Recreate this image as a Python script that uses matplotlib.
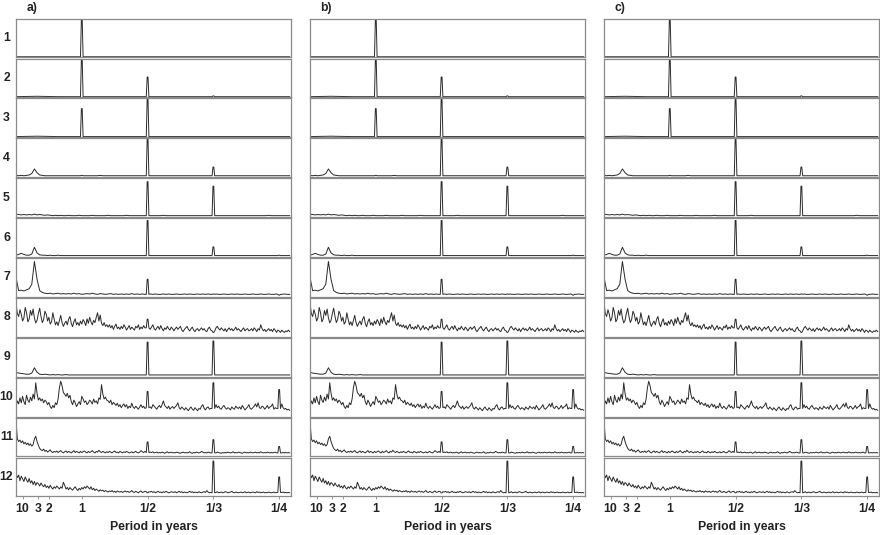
import numpy as np
import matplotlib.pyplot as plt

plt.rcParams['font.family'] = ['Liberation Sans', 'DejaVu Sans']

COLUMN_LABELS = ["a)", "b)", "c)"]
ROW_LABELS = ["1", "2", "3", "4", "5", "6", "7", "8", "9", "10", "11", "12"]
TICK_FREQS = [0.1, 1 / 3, 0.5, 1, 2, 3, 4]
TICK_LABELS = ["10", "3", "2", "1", "1/2", "1/3", "1/4"]
X_LABEL = "Period in years"

# sharp annual / semi-annual / ... peaks (cycles per year) and their heights per row
SPIKE_FREQS = [1, 2, 3, 4]
SPIKE_HEIGHTS = [
    [100, 0, 0, 0],
    [100, 52, 2, 0],
    [74, 100, 0, 0],
    [3, 100, 25, 0],
    [0, 92, 80, 0],
    [0, 95, 25, 3],
    [0, 45, 6, 3],
    [0, 45, 10, 0],
    [0, 90, 93, 0],
    [0, 65, 88, 70],
    [0, 37, 43, 25],
    [0, 8, 92, 50],
]

# background spectra, evenly spread from 0 to 4.16 cycles/year (percent of panel height)
BASE_1 = [0, 0, 0, 0, 0, 0, 0, 0, 0, 0, 0, 0, 0, 0]
BASE_2 = [0, 1, 0, 0, 0, 0, 0, 0, 0, 0, 0, 0, 0, 0]
BASE_3 = [0, 1, 0, 0, 0, 0, 0, 0, 0, 0, 0, 0, 0, 0]
BASE_4 = [
    3, 2, 3, 2, 3, 4, 8, 20, 10, 4,
    3, 2, 2, 2, 2, 2, 2, 2, 2, 2,
    2, 2, 2, 2, 2, 2, 2, 2, 2, 2,
    2, 2, 3, 2, 2, 2, 2, 2, 2, 2,
    2, 2, 2, 2, 2, 2, 2, 2, 2, 2,
    2, 2, 2, 2, 2, 2, 2, 2, 2, 2,
    2, 2, 2, 2, 2, 2, 2, 2, 2, 2,
    2, 2, 2, 2, 2, 2, 2, 2, 2, 2,
    2, 2, 2, 2, 2, 2, 2, 2, 2, 2,
    2, 2, 2, 2, 2, 2, 2, 2, 2, 2,
    2, 2, 2, 2, 2,
]
BASE_5 = [
    6, 5, 4, 5, 4, 5, 4, 6, 4, 5,
    4, 3, 4, 3, 2, 3, 2, 3, 2, 2,
    3, 2, 2, 2, 3, 2, 2, 2, 2, 3,
    2, 2, 2, 2, 2, 3, 2, 2, 2, 2,
    2, 2, 3, 2, 2, 2, 2, 2, 2, 2,
    2, 2, 2, 2, 2, 2, 3, 2, 2, 2,
    2, 2, 2, 2, 2, 2, 2, 2, 2, 2,
    2, 2, 2, 2, 2, 2, 2, 2, 2, 2,
    2, 2, 2, 2, 2, 2, 2, 2, 2, 2,
    2, 2, 2, 2, 2, 2, 3, 2, 2, 2,
    2, 2, 2, 2, 2,
]
BASE_6 = [
    3, 5, 8, 5, 3, 3, 6, 24, 9, 4,
    3, 3, 2, 3, 2, 2, 3, 2, 2, 2,
    2, 2, 2, 2, 2, 2, 2, 2, 2, 2,
    2, 2, 2, 2, 2, 2, 2, 2, 2, 2,
    2, 2, 2, 2, 2, 2, 2, 2, 2, 2,
    2, 2, 2, 2, 2, 2, 2, 2, 2, 2,
    2, 2, 2, 2, 2, 2, 2, 2, 2, 2,
    2, 2, 2, 2, 2, 2, 2, 2, 2, 2,
    2, 2, 2, 2, 2, 2, 2, 2, 2, 2,
    2, 2, 2, 2, 2, 2, 2, 2, 2, 2,
    2, 2, 2, 2, 2,
]
BASE_7 = [
    50, 15, 16, 14, 17, 20, 32, 92, 45, 15,
    10, 8, 7, 8, 6, 7, 8, 6, 7, 6,
    7, 6, 8, 6, 7, 5, 6, 7, 6, 8,
    6, 5, 7, 6, 5, 6, 7, 5, 6, 5,
    6, 5, 6, 5, 7, 5, 6, 5, 6, 5,
    5, 6, 5, 6, 5, 5, 6, 5, 6, 5,
    5, 6, 5, 5, 6, 5, 6, 5, 5, 6,
    5, 6, 5, 6, 5, 5, 6, 5, 5, 6,
    5, 5, 6, 5, 6, 5, 5, 6, 5, 5,
    6, 5, 5, 6, 5, 5, 6, 5, 5, 6,
    5, 5, 6, 5, 5,
]
BASE_8 = [
    88, 60, 52, 70, 58, 40, 48, 76, 62, 38,
    45, 68, 55, 72, 48, 35, 42, 60, 74, 52,
    36, 44, 66, 58, 40, 50, 32, 38, 62, 45,
    30, 38, 28, 42, 55, 36, 26, 34, 40, 30,
    45, 52, 34, 25, 38, 46, 30, 36, 28, 40,
    32, 44, 38, 28, 46, 34, 50, 38, 30, 42,
    36, 50, 62, 40, 56, 34, 28, 36, 26, 30,
    24, 30, 22, 28, 18, 26, 32, 20, 24, 18,
    26, 20, 30, 24, 16, 22, 28, 18, 24, 20,
    16, 26, 22, 30, 18, 24, 20, 28, 22, 18,
    22, 26, 18, 24, 30, 20, 16, 22, 26, 18,
    28, 20, 14, 22, 18, 26, 20, 16, 24, 20,
    14, 20, 24, 18, 22, 26, 16, 12, 18, 22,
    26, 18, 14, 20, 24, 16, 12, 18, 20, 14,
    18, 22, 16, 20, 14, 12, 20, 24, 16, 18,
    14, 18, 22, 26, 20, 16, 22, 18, 14, 20,
    12, 18, 22, 16, 20, 14, 18, 24, 16, 20,
    16, 12, 18, 22, 14, 18, 20, 14, 16, 20,
    14, 22, 18, 12, 20, 16, 30, 20, 14, 18,
    12, 16, 20, 14, 18, 12, 20, 16, 10, 16,
    14, 10, 16, 12, 10, 14, 12, 16, 12,
]
BASE_9 = [
    10, 8, 7, 6, 5, 5, 8, 22, 10, 5,
    4, 5, 4, 3, 4, 3, 4, 3, 3, 4,
    3, 3, 3, 3, 3, 3, 3, 3, 3, 3,
    3, 3, 3, 3, 3, 3, 3, 3, 3, 3,
    3, 3, 3, 3, 3, 3, 3, 3, 3, 3,
    3, 3, 3, 3, 3, 3, 3, 3, 3, 3,
    3, 3, 3, 3, 3, 3, 3, 3, 3, 3,
    3, 3, 3, 3, 3, 3, 3, 3, 3, 3,
    3, 3, 3, 3, 3, 3, 3, 3, 3, 3,
    3, 3, 3, 3, 3, 3, 3, 3, 3, 3,
    3, 3, 3, 3, 3,
]
BASE_10 = [
    25, 40, 32, 48, 35, 52, 38, 30, 55, 42,
    36, 50, 40, 58, 45, 88, 60, 42, 48, 40,
    45, 35, 42, 38, 30, 36, 25, 20, 28, 22,
    35, 30, 45, 75, 92, 80, 62, 58, 52, 60,
    48, 55, 38, 30, 42, 35, 25, 32, 38, 30,
    52, 45, 36, 40, 30, 35, 42, 38, 32, 45,
    36, 40, 32, 48, 44, 83, 58, 45, 50, 42,
    40, 35, 42, 30, 36, 32, 28, 34, 25, 30,
    22, 28, 32, 24, 30, 20, 26, 22, 34, 24,
    20, 26, 22, 18, 24, 30, 22, 26, 20, 24,
    22, 28, 24, 20, 30, 26, 22, 18, 24, 28,
    22, 30, 40, 28, 24, 20, 26, 18, 22, 25,
    20, 24, 28, 35, 22, 18, 24, 20, 16, 22,
    18, 14, 20, 24, 18, 15, 22, 18, 14, 20,
    18, 26, 30, 20, 16, 22, 24, 18, 20, 25,
    20, 24, 30, 22, 26, 20, 18, 24, 28, 22,
    18, 22, 20, 16, 24, 20, 18, 26, 22, 20,
    24, 18, 28, 22, 16, 20, 24, 30, 20, 18,
    22, 26, 32, 24, 35, 22, 20, 26, 24, 18,
    22, 28, 20, 24, 26, 32, 18, 22, 20, 24,
    20, 26, 32, 22, 18, 20, 16, 18, 15,
]
BASE_11 = [
    92, 45, 38, 42, 35, 40, 32, 36, 30, 34,
    28, 32, 26, 30, 45, 52, 38, 28, 20, 16,
    14, 18, 12, 15, 10, 13, 16, 11, 9, 12,
    10, 13, 9, 12, 14, 10, 8, 11, 13, 9,
    12, 10, 8, 11, 14, 9, 12, 10, 8, 12,
    9, 11, 13, 10, 8, 12, 9, 11, 14, 10,
    8, 12, 10, 15, 11, 9, 12, 10, 8, 11,
    9, 12, 10, 8, 11, 13, 9, 10, 8, 12,
    10, 8, 11, 9, 12, 10, 8, 9, 11, 8,
    10, 12, 9, 8, 10, 14, 11, 9, 12, 8,
    9, 8, 10, 9, 11, 8, 9, 10, 8, 9,
    8, 10, 9, 7, 9, 11, 8, 9, 10, 8,
    9, 8, 10, 9, 8, 7, 9, 10, 8, 9,
    8, 9, 11, 8, 7, 9, 8, 10, 9, 8,
    9, 12, 10, 8, 9, 8, 10, 9, 8, 9,
    8, 9, 8, 10, 9, 8, 7, 9, 8, 9,
    8, 10, 9, 8, 9, 11, 8, 9, 8, 10,
    9, 8, 7, 9, 10, 8, 9, 8, 10, 9,
    8, 9, 10, 8, 9, 8, 11, 9, 8, 9,
    8, 10, 9, 8, 9, 8, 9, 10, 8, 9,
    8, 9, 8, 9, 8, 9, 8, 9, 8,
]
BASE_12 = [
    60, 48, 55, 40, 52, 45, 38, 50, 42, 36,
    46, 34, 40, 30, 38, 28, 35, 32, 26, 34,
    28, 24, 30, 22, 26, 20, 28, 22, 18, 24,
    20, 26, 22, 18, 24, 20, 36, 28, 18, 22,
    16, 22, 18, 15, 20, 24, 18, 14, 20, 16,
    22, 18, 24, 20, 26, 22, 18, 24, 16, 20,
    14, 18, 15, 12, 16, 13, 15, 11, 14, 12,
    10, 13, 11, 14, 10, 12, 9, 13, 11, 10,
    12, 9, 11, 13, 10, 12, 9, 11, 14, 10,
    9, 12, 10, 8, 11, 13, 9, 10, 12, 9,
    11, 9, 10, 12, 9, 11, 8, 10, 12, 9,
    10, 8, 11, 9, 12, 10, 8, 9, 11, 10,
    9, 11, 8, 10, 12, 9, 11, 8, 10, 9,
    8, 10, 12, 9, 11, 8, 10, 9, 8, 11,
    9, 8, 10, 11, 9, 14, 10, 8, 9, 10,
    8, 10, 9, 11, 8, 9, 10, 8, 9, 11,
    10, 8, 9, 10, 12, 9, 8, 10, 9, 8,
    9, 10, 8, 9, 11, 8, 9, 10, 8, 9,
    10, 9, 8, 11, 9, 10, 8, 9, 10, 8,
    9, 8, 10, 9, 8, 9, 10, 8, 9, 8,
    9, 8, 9, 10, 8, 9, 8, 9, 8,
]
BASELINES = [BASE_1, BASE_2, BASE_3, BASE_4, BASE_5, BASE_6,
             BASE_7, BASE_8, BASE_9, BASE_10, BASE_11, BASE_12]

FREQ_MAX = 4.16
W, H = 880, 535
COL_LEFT = [16, 310, 604]
COL_WIDTH = 275
ROW_TOP = 18
ROW_H = 479 / 12
LINE_COLOR = "#2a2a2a"
FRAME_COLOR = "#8a8a8a"


def spectrum(base, heights):
    x = np.linspace(0, FREQ_MAX, len(base))
    y = np.array(base, dtype=float)
    xs, ys = list(x), list(y)
    for f0, h in zip(SPIKE_FREQS, heights):
        if h <= 0:
            continue
        i = int(np.argmin(np.abs(x - f0)))
        b = y[i]
        keep = [k for k in range(len(xs)) if abs(xs[k] - f0) >= 0.025]
        xs = [xs[k] for k in keep] + [f0 - 0.02, f0 - 0.006, f0 + 0.006, f0 + 0.02]
        ys = [ys[k] for k in keep] + [b, h, h, b]
    order = np.argsort(xs)
    return np.array(xs)[order], np.array(ys)[order]


fig = plt.figure(figsize=(W / 100, H / 100), dpi=100)

for c, left in enumerate(COL_LEFT):
    for r in range(12):
        top = ROW_TOP + r * ROW_H
        ax = fig.add_axes([left / W, 1 - (top + ROW_H - 0.6) / H,
                           COL_WIDTH / W, (ROW_H - 1.2) / H])
        fx, fy = spectrum(BASELINES[r], SPIKE_HEIGHTS[r])
        ax.plot(fx, fy, color=LINE_COLOR, lw=0.7)
        ax.set_xlim(0, 4.18)
        ax.set_ylim(-1.5, 101)
        ax.set_yticks([])
        for s in ax.spines.values():
            s.set_color(FRAME_COLOR)
            s.set_linewidth(0.9)
        if r == 11:
            ax.set_xticks(TICK_FREQS)
            ax.set_xticklabels(TICK_LABELS, fontsize=8.8, fontweight="bold",
                               color="#222222")
            ax.tick_params(axis="x", length=2, width=0.6, color=FRAME_COLOR, pad=2.5)
        else:
            ax.set_xticks([])
        if c == 0:
            fig.text(6.5 / W, 1 - (top + ROW_H / 2) / H, ROW_LABELS[r],
                     ha="center", va="center", fontsize=8.8, fontweight="bold",
                     color="#222222")
    fig.text((left + 10.5) / W, 1 - 7.5 / H, COLUMN_LABELS[c], ha="left",
             va="center", fontsize=8.8, fontweight="bold", color="#222222")
    fig.text((left + COL_WIDTH / 2) / W, 1 - 527 / H, X_LABEL, ha="center",
             va="center", fontsize=8.8, fontweight="bold", color="#222222")

fig.savefig("out.png", dpi=100)
